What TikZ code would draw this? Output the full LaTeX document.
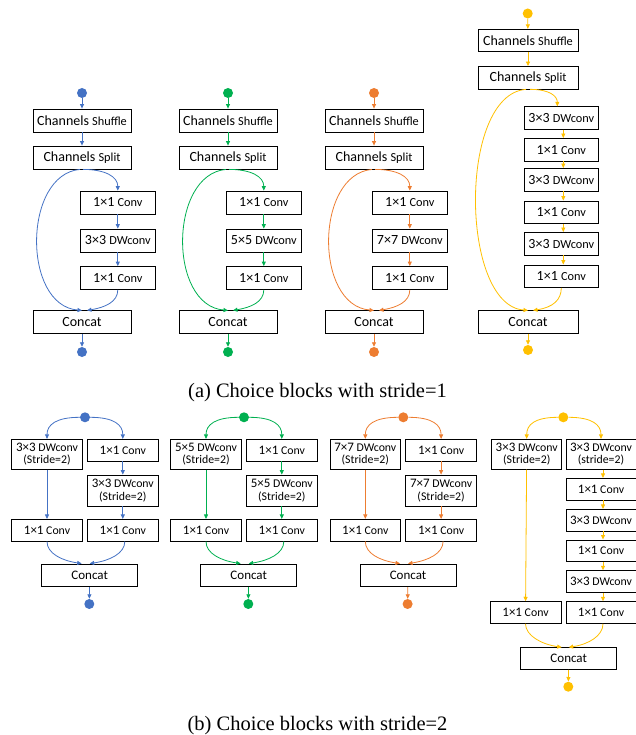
\documentclass[tikz,border=0pt]{standalone}
\usepackage{fontspec}
\setmainfont{Carlito}
\newfontfamily\capfont{Liberation Serif}
\usetikzlibrary{arrows.meta}
\definecolor{cB}{HTML}{4472C4}
\definecolor{cG}{HTML}{00B050}
\definecolor{cO}{HTML}{ED7D31}
\definecolor{cY}{HTML}{FFC000}
\newcommand\szA{\fontsize{14}{15}\selectfont}
\newcommand\szB{\fontsize{12.3}{14}\selectfont}
\newcommand\szC{\fontsize{11.8}{12.5}\selectfont}
\newcommand\szD{\fontsize{13}{12.5}\selectfont}
\tikzset{
  wbox/.style={draw=black, line width=0.8pt, fill=white, inner sep=0pt, align=center, minimum height=23pt},
  dotn/.style={circle, draw=none, inner sep=0pt, minimum size=10pt},
  arr/.style={-{Triangle[length=4.5pt,width=4pt]}, line width=0.8pt},
  capt/.style={font=\capfont\fontsize{20.5}{24}\selectfont, anchor=base, inner sep=0pt}
}
\begin{document}
\begin{tikzpicture}[x=1pt,y=-1pt]
\useasboundingbox (0,0) rectangle (636,735);
% ---------- top row, blocks 1-3 ----------
\foreach \ox/\col/\k/\p in {0/cB/3/a,146/cG/5/b,292/cO/7/c}{
  \node[dotn,fill=\col] (\p d1) at (82+\ox,93) {};
  \node[wbox,minimum width=98pt] (\p sh) at (82+\ox,120.5) {\szA Channels \szB Shuffle};
  \node[wbox,minimum width=98pt] (\p sp) at (82+\ox,157.5) {\szA Channels \szB Split};
  \node[wbox,minimum width=75pt] (\p c1) at (117.8+\ox,202.5) {\szA 1×1 \szB Conv};
  \node[wbox,minimum width=75pt] (\p c2) at (117.8+\ox,240.5) {\szA \k×\k{} \szB DWconv};
  \node[wbox,minimum width=75pt] (\p c3) at (117.8+\ox,278) {\szA 1×1 \szB Conv};
  \node[wbox,minimum width=98pt] (\p cc) at (82+\ox,322.3) {\szA Concat};
  \node[dotn,fill=\col] (\p d2) at (82+\ox,352) {};
  \draw[arr,draw=\col] (\p d1) -- (\p sh);
  \draw[arr,draw=\col] (\p sh) -- (\p sp);
  \draw[arr,draw=\col] ([xshift=1pt]\p sp.south) .. controls +(22,0) and +(0,-14) .. (\p c1.north);
  \draw[arr,draw=\col] ([xshift=-2pt]\p sp.south) .. controls +(-57,5) and +(-60,-5) .. (\p cc.north);
  \draw[arr,draw=\col] (\p c1) -- (\p c2);
  \draw[arr,draw=\col] (\p c2) -- (\p c3);
  \draw[arr,draw=\col] (\p c3.south) .. controls +(0,12) and +(18,-3) .. ([xshift=5pt]\p cc.north);
  \draw[arr,draw=\col] (\p cc) -- (\p d2);
}
% ---------- top row, block 4 ----------
\node[dotn,fill=cY] (yd1) at (527.7,13.5) {};
\node[wbox,minimum width=100pt,minimum height=22.5pt] (ysh) at (528,40.5) {\szA Channels \szB Shuffle};
\node[wbox,minimum width=100pt,minimum height=22.5pt] (ysp) at (528,77.7) {\szA Channels \szB Split};
\node[wbox,minimum width=74pt,minimum height=22.5pt] (yc1) at (561.3,118) {\szA 3×3 \szB DWconv};
\node[wbox,minimum width=74pt,minimum height=22.5pt] (yc2) at (561.3,149.7) {\szA 1×1 \szB Conv};
\node[wbox,minimum width=74pt,minimum height=22.5pt] (yc3) at (561.3,179.7) {\szA 3×3 \szB DWconv};
\node[wbox,minimum width=74pt,minimum height=22.5pt] (yc4) at (561.3,212.2) {\szA 1×1 \szB Conv};
\node[wbox,minimum width=74pt,minimum height=22.5pt] (yc5) at (561.3,243.7) {\szA 3×3 \szB DWconv};
\node[wbox,minimum width=74pt,minimum height=22.5pt] (yc6) at (561.3,276.2) {\szA 1×1 \szB Conv};
\node[wbox,minimum width=100pt,minimum height=22.5pt] (ycc) at (528,322) {\szA Concat};
\node[dotn,fill=cY] (yd2) at (528,350) {};
\draw[arr,draw=cY] (yd1) -- (ysh);
\draw[arr,draw=cY] (ysh) -- (ysp);
\draw[arr,draw=cY] ([xshift=2pt]ysp.south) .. controls +(20,0) and +(0,-10) .. ([xshift=-4pt]yc1.north);
\draw[arr,draw=cY] ([xshift=-2pt]ysp.south) .. controls +(-68,5) and +(-68,-5) .. (ycc.north);
\foreach \a/\b in {yc1/yc2,yc2/yc3,yc3/yc4,yc4/yc5,yc5/yc6}{
  \draw[arr,draw=cY] ([xshift=2pt]\a.south) -- ([xshift=2pt]\b.north);
}
\draw[arr,draw=cY] (yc6.south) .. controls +(0,12) and +(20,-3) .. ([xshift=5pt]ycc.north);
\draw[arr,draw=cY] (ycc) -- (yd2);
% ---------- captions ----------
\node[capt] (capa) at (317.5,397) {(a) Choice blocks with stride=1};
\node[capt] (capb) at (317.5,730) {(b) Choice blocks with stride=2};
% ---------- bottom row, blocks 1-3 ----------
\foreach \ox/\col/\k/\p in {0/cB/3/e,159/cG/5/f,318.3/cO/7/g}{
  \node[dotn,fill=\col] (\p d1) at (85+\ox,417.3) {};
  \node[wbox,font=\szC,minimum width=70.6pt,minimum height=30pt] (\p l1) at (47+\ox,454.3) {{\szD \k×\k} DWconv\\(Stride=2)};
  \node[wbox,font=\szC,minimum width=71pt,minimum height=21.7pt] (\p r1) at (122.8+\ox,450.2) {{\szD 1×1} Conv};
  \node[wbox,font=\szC,minimum width=71pt,minimum height=31pt] (\p r2) at (122.8+\ox,490.5) {{\szD \k×\k} DWconv\\(Stride=2)};
  \node[wbox,font=\szC,minimum width=70.6pt,minimum height=21.7pt] (\p l2) at (47+\ox,530.2) {{\szD 1×1} Conv};
  \node[wbox,font=\szC,minimum width=71pt,minimum height=21.7pt] (\p r3) at (122.8+\ox,530.2) {{\szD 1×1} Conv};
  \node[wbox,minimum width=96pt,minimum height=22.7pt] (\p cc) at (89.7+\ox,575.3) {\szD Concat};
  \node[dotn,fill=\col] (\p d2) at (89.3+\ox,604) {};
  \draw[arr,draw=\col] (\p d1.west) .. controls +(-24,0) and +(0,-14) .. (\p l1.north);
  \draw[arr,draw=\col] (\p d1.east) .. controls +(24,0) and +(0,-14) .. (\p r1.north);
  \draw[arr,draw=\col] (\p l1) -- (\p l2);
  \draw[arr,draw=\col] (\p r1) -- (\p r2);
  \draw[arr,draw=\col] (\p r2) -- (\p r3);
  \draw[arr,draw=\col] (\p l2.south) .. controls +(0,12) and +(-20,-3) .. ([xshift=-8pt]\p cc.north);
  \draw[arr,draw=\col] ([xshift=2pt]\p r3.south) .. controls +(0,12) and +(20,-3) .. (\p cc.north);
  \draw[arr,draw=\col] (\p cc) -- (\p d2);
}
% ---------- bottom row, block 4 ----------
\node[dotn,fill=cY] (hd1) at (563.3,417.3) {};
\node[wbox,font=\szC,minimum width=70pt,minimum height=30pt] (hl1) at (526.7,454.3) {{\szD 3×3} DWconv\\(Stride=2)};
\node[wbox,font=\szC,minimum width=70pt,minimum height=30pt] (hr1) at (601,454.3) {{\szD 3×3} DWconv\\(stride=2)};
\node[wbox,font=\szC,minimum width=70pt,minimum height=21.7pt] (hr2) at (601,489.2) {{\szD 1×1} Conv};
\node[wbox,font=\szC,minimum width=70pt,minimum height=21.7pt] (hr3) at (601,520.2) {{\szD 3×3} DWconv};
\node[wbox,font=\szC,minimum width=70pt,minimum height=21.7pt] (hr4) at (601,550.8) {{\szD 1×1} Conv};
\node[wbox,font=\szC,minimum width=70pt,minimum height=21.7pt] (hr5) at (601,581.5) {{\szD 3×3} DWconv};
\node[wbox,font=\szC,minimum width=70pt,minimum height=21.7pt] (hr6) at (601,612.5) {{\szD 1×1} Conv};
\node[wbox,font=\szC,minimum width=71pt,minimum height=21.7pt] (hl2) at (525.5,612.5) {{\szD 1×1} Conv};
\node[wbox,minimum width=96pt,minimum height=21.7pt] (hcc) at (568.7,658.5) {\szD Concat};
\node[dotn,fill=cY] (hd2) at (568.3,686.7) {};
\draw[arr,draw=cY] (hd1.west) .. controls +(-24,0) and +(0,-14) .. (hl1.north);
\draw[arr,draw=cY] (hd1.east) .. controls +(24,0) and +(0,-14) .. (hr1.north);
\draw[arr,draw=cY] (hl1) -- (hl2);
\foreach \a/\b in {hr1/hr2,hr2/hr3,hr3/hr4,hr4/hr5,hr5/hr6}{
  \draw[arr,draw=cY] ([xshift=2pt]\a.south) -- ([xshift=2pt]\b.north);
}
\draw[arr,draw=cY] (hl2.south) .. controls +(0,12) and +(-20,-3) .. ([xshift=-7pt]hcc.north);
\draw[arr,draw=cY] ([xshift=2pt]hr6.south) .. controls +(0,12) and +(20,-3) .. (hcc.north);
\draw[arr,draw=cY] (hcc) -- (hd2);
\end{tikzpicture}
\end{document}
